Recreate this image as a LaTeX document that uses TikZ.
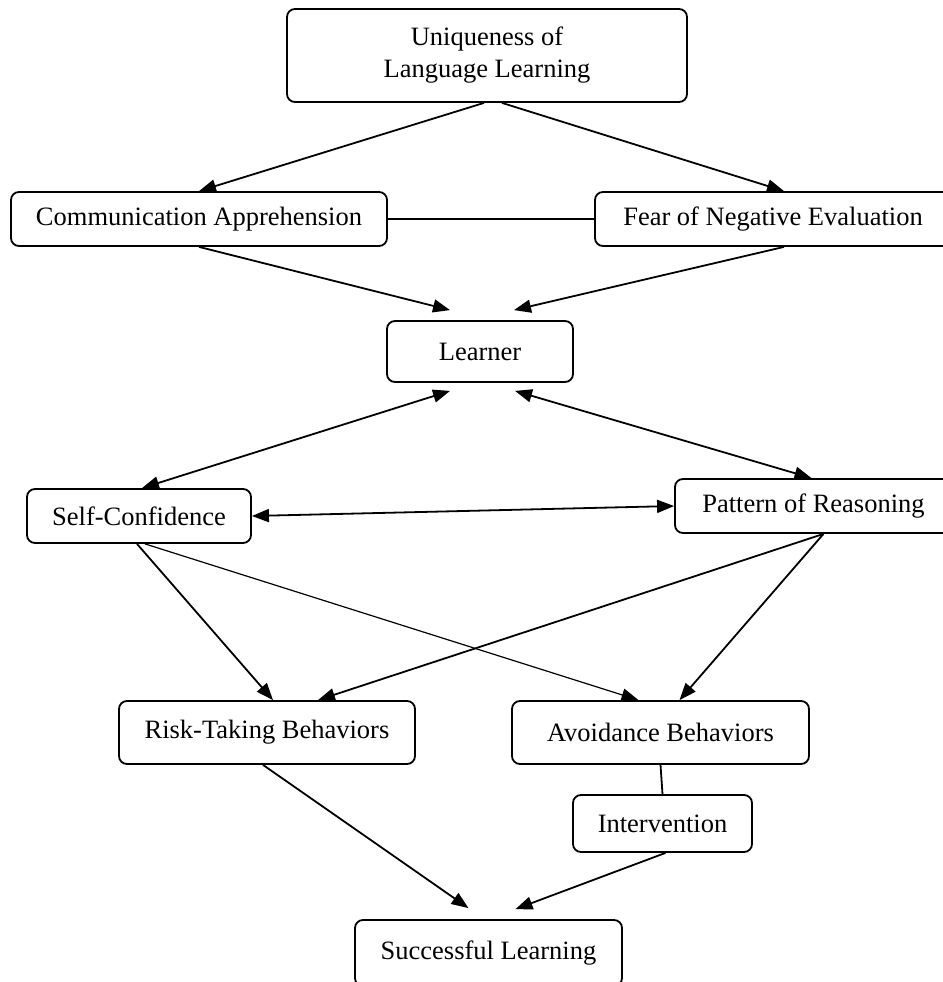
\documentclass[tikz,border=0pt]{standalone}
\usepackage{fontspec}
\setmainfont{Liberation Serif}
\usetikzlibrary{arrows.meta,calc}
\begin{document}
\begin{tikzpicture}[x=1pt,y=-1pt,
  box/.style={draw=black,line width=1.8pt,rounded corners=8pt,inner sep=0pt,
    align=center,font=\fontsize{26.5}{32}\selectfont},
  arr/.style={line width=1.8pt,-{Triangle[length=17pt,width=13pt]}},
  darr/.style={line width=1.8pt,{Triangle[length=17pt,width=13pt]}-{Triangle[length=17pt,width=13pt]}},
  thinarr/.style={line width=1.2pt,-{Triangle[length=17pt,width=13pt]}},
  link/.style={line width=1.8pt}]
\useasboundingbox (0,0) rectangle (942,982);
\node[box,minimum width=400pt,minimum height=93pt] (U) at (487,55.5) {Uniqueness of\\Language Learning};
\node[box,minimum width=376pt,minimum height=54pt] (CA) at (199,219) {Communication Apprehension};
\node[box,minimum width=356pt,minimum height=54pt] (FNE) at (773,219) {Fear of Negative Evaluation};
\node[box,minimum width=186pt,minimum height=61pt] (L) at (480,351.5) {Learner};
\node[box,minimum width=224pt,minimum height=54pt] (SC) at (139,516) {Self-Confidence};
\node[box,minimum width=277pt,minimum height=54pt] (PR) at (813.5,506) {Pattern of Reasoning};
\node[box,minimum width=296pt,minimum height=63pt] (RT) at (267,732.5) {Risk-Taking Behaviors};
\node[box,minimum width=297pt,minimum height=63pt] (AB) at (660.5,732.5) {Avoidance Behaviors};
\node[box,minimum width=179pt,minimum height=57pt] (IV) at (662.5,823.5) {Intervention};
\node[box,minimum width=267pt,minimum height=66pt] (SL) at (488.5,953) {Successful Learning};

\coordinate (tL1) at ($(L.north)+(-30,-10)$);
\coordinate (tL2) at ($(L.north)+(34,-10)$);
\coordinate (bL1) at ($(L.south)+(-30,8)$);
\coordinate (bL2) at ($(L.south)+(35,8)$);
\coordinate (tS1) at ($(SL.north)+(-20,-11)$);
\coordinate (tS2) at ($(SL.north)+(27,-10)$);

\draw[arr] ($(U.south)+(-3,0)$) -- (CA.north);
\draw[arr] ($(U.south)+(15,0)$) -- ($(FNE.north)+(11,0)$);
\draw[link] (CA.east) -- (FNE.west);
\draw[arr] (CA.south) -- (tL1);
\draw[arr] ($(FNE.south)+(11,0)$) -- (tL2);
\draw[darr] (bL1) -- ($(SC.north)+(3,0)$);
\draw[darr] (bL2) -- ($(PR.north)+(-2,0)$);
\draw[darr] (SC.east) -- (PR.west);
\draw[arr] ($(SC.south)+(-2,0)$) -- ($(RT.north)+(6,0)$);
\draw[thinarr] ($(SC.south)+(6,0)$) -- ($(AB.north)+(-22,0)$);
\draw[arr] ($(PR.south)+(10,0)$) -- ($(RT.north)+(51,0)$);
\draw[arr] ($(PR.south)+(10,0)$) -- ($(AB.north)+(19,0)$);
\draw[arr] ($(RT.south)+(-4,0)$) -- (tS1);
\draw[link] (AB.south) -- (IV.north);
\draw[arr] ($(IV.south)+(3,0)$) -- (tS2);
\end{tikzpicture}
\end{document}
